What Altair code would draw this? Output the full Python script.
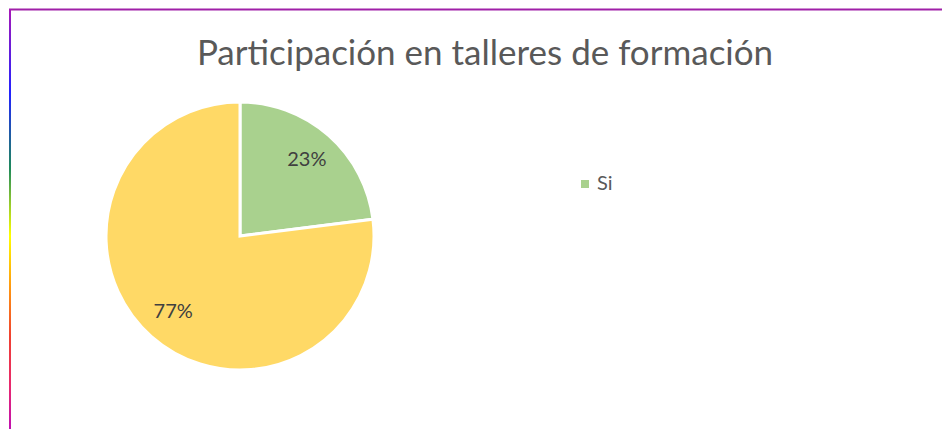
import altair as alt
import pandas as pd

categories = ["Si", "No"]
values = [23, 77]
labels = ["23%", "77%"]
colors = ["#A9D18E", "#FFD966"]
legend_items = ["Si"]
title_text = "Participación en talleres de formación"

df = pd.DataFrame({"cat": categories, "value": values, "label": labels, "idx": [0, 1]})
one = pd.DataFrame({"k": [0]})
leg = pd.DataFrame({"cat": legend_items})

CX, CY, R = 232, 228, 134
FONT = "Lato"

base = alt.Chart(df)

pie = base.mark_arc(outerRadius=R, stroke="white", strokeWidth=3).encode(
    theta=alt.Theta("value:Q", stack=True),
    color=alt.Color("cat:N", scale=alt.Scale(domain=categories, range=colors), legend=None),
    order=alt.Order("idx:Q"),
    x=alt.value(CX),
    y=alt.value(CY),
)

txt = base.mark_text(radius=101, font=FONT, fontSize=20, color="#404040").encode(
    theta=alt.Theta("value:Q", stack=True),
    order=alt.Order("idx:Q"),
    text="label:N",
    x=alt.value(CX),
    y=alt.value(CY),
)

title = alt.Chart(one).mark_text(font=FONT, fontSize=35, color="#595959", align="center", baseline="alphabetic").encode(
    x=alt.value(477), y=alt.value(57), text=alt.value(title_text)
)

leg_sq = alt.Chart(leg).mark_square(size=64, opacity=1).encode(
    x=alt.value(577), y=alt.value(176),
    color=alt.Color("cat:N", scale=alt.Scale(domain=categories, range=colors), legend=None),
)
leg_txt = alt.Chart(leg).mark_text(font=FONT, fontSize=20, color="#595959", align="left", baseline="middle").encode(
    x=alt.value(589), y=alt.value(176), text="cat:N"
)

top_line = alt.Chart(one).mark_rule(color="#A020A8", strokeWidth=2).encode(
    x=alt.value(1), x2=alt.value(934), y=alt.value(1.5)
)

grad = alt.Gradient(
    gradient="linear",
    stops=[
        alt.GradientStop(color="#A818B8", offset=0.0),
        alt.GradientStop(color="#2222FF", offset=0.2),
        alt.GradientStop(color="#1E8A5A", offset=0.38),
        alt.GradientStop(color="#90C830", offset=0.46),
        alt.GradientStop(color="#FFFF00", offset=0.54),
        alt.GradientStop(color="#FF9A10", offset=0.66),
        alt.GradientStop(color="#F04030", offset=0.78),
        alt.GradientStop(color="#E82870", offset=0.9),
        alt.GradientStop(color="#C010B0", offset=1.0),
    ],
    x1=0, x2=0, y1=0, y2=1,
)
left_line = alt.Chart(one).mark_rect(fill=grad).encode(
    x=alt.value(1), x2=alt.value(3), y=alt.value(1), y2=alt.value(421)
)

chart = alt.layer(top_line, left_line, pie, txt, title, leg_sq, leg_txt).properties(
    width=934, height=421, autosize=alt.AutoSizeParams(type="none"), padding=0
).configure_view(stroke=None)

chart.save("out.html", embed_options={"renderer": "svg", "actions": False})
